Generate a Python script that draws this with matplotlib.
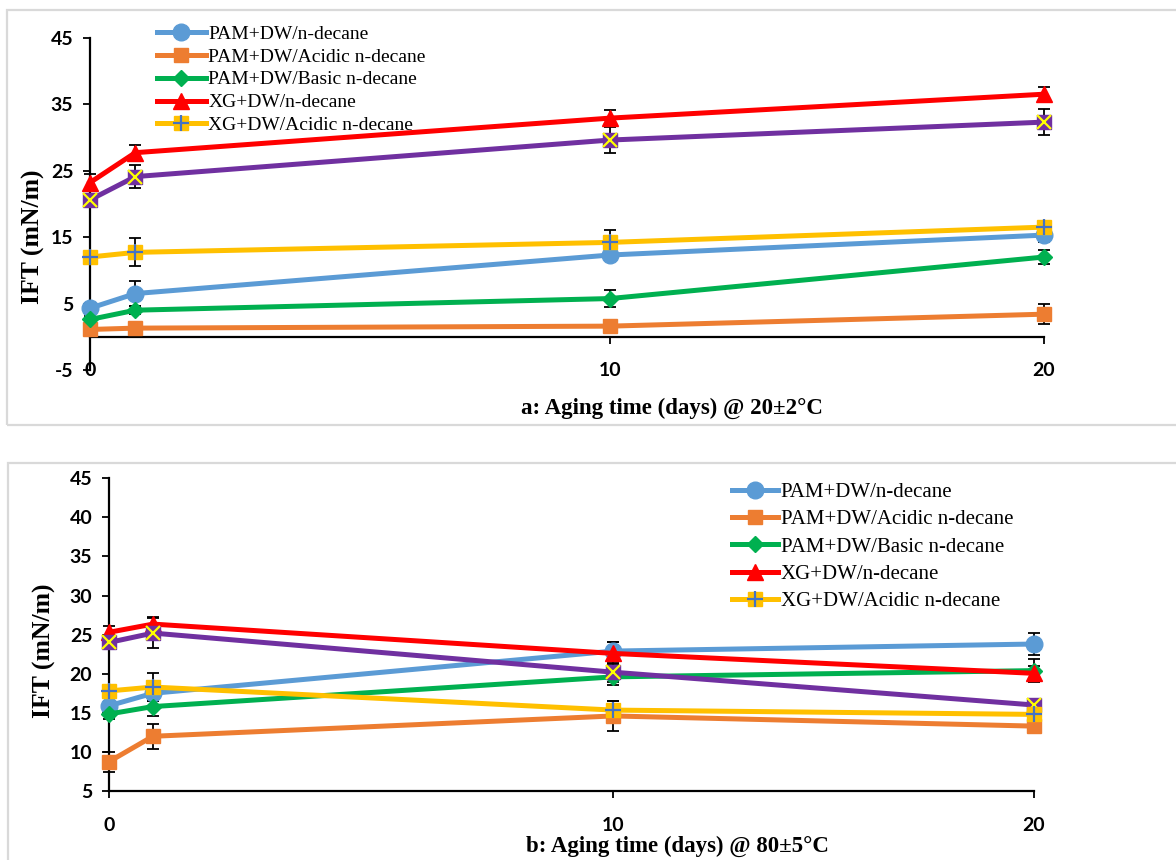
import numpy as np
import matplotlib
matplotlib.use("Agg")
import matplotlib.pyplot as plt
from matplotlib.patches import Rectangle
from matplotlib.legend_handler import HandlerTuple

# aging time points (days)
days = [0, 1, 10, 20]

# panel a: 20 +/- 2 C
a_pam_dw = [4.3, 6.5, 12.3, 15.3]
a_pam_acid = [1.1, 1.3, 1.6, 3.4]
a_pam_basic = [2.6, 4.0, 5.75, 12.0]
a_xg_dw = [23.2, 27.7, 32.9, 36.5]
a_xg_basic = [20.6, 24.1, 29.6, 32.3]
a_xg_acid = [12.0, 12.7, 14.2, 16.5]

a_err_pam_dw = [0.8, 1.9, 0.8, 1.0]
a_err_pam_acid = [0.5, 0.5, 0.5, 1.5]
a_err_pam_basic = [0.5, 0.6, 1.25, 1.0]
a_err_xg_dw = [1.3, 1.2, 1.2, 1.1]
a_err_xg_basic = [0.8, 1.75, 2.0, 2.0]
a_err_xg_acid = [0.6, 2.1, 1.8, 0.8]

# panel b: 80 +/- 5 C
b_pam_dw = [15.9, 17.5, 22.9, 23.8]
b_pam_acid = [8.75, 12.0, 14.6, 13.3]
b_pam_basic = [14.85, 15.8, 19.6, 20.4]
b_xg_dw = [25.3, 26.35, 22.6, 20.05]
b_xg_basic = [24.0, 25.2, 20.2, 16.0]
b_xg_acid = [17.8, 18.3, 15.35, 14.8]

b_err_pam_dw = [0.6, 1.0, 1.2, 1.4]
b_err_pam_acid = [1.3, 1.6, 1.9, 0.8]
b_err_pam_basic = [0.6, 1.2, 1.0, 1.5]
b_err_xg_dw = [0.8, 0.9, 1.4, 1.0]
b_err_xg_basic = [0.6, 1.9, 1.2, 0.8]
b_err_xg_acid = [0.6, 1.75, 1.2, 0.6]

labels = ["PAM+DW/n-decane", "PAM+DW/Acidic n-decane", "PAM+DW/Basic n-decane",
          "XG+DW/n-decane", "XG+DW/Acidic n-decane"]

BLUE, ORANGE, GREEN = "#5B9BD5", "#ED7D31", "#00B050"
RED, PURPLE, YELLOW = "#FF0000", "#7030A0", "#FFC000"

# day axis is slightly stretched between day 1 and day 10
XK = [-5, 0, 1, 10, 20, 30]
XV = [-5, 0, 0.95, 10.9, 20, 30]


def fwd(x):
    return np.interp(x, XK, XV)


def inv(x):
    return np.interp(x, XV, XK)


SANS = "Lato"
SERIF = "Liberation Serif"
LW = 3.6

plt.rcParams["font.family"] = SANS
plt.rcParams["font.weight"] = "bold"
plt.rcParams["axes.unicode_minus"] = False
plt.rcParams["xtick.labelsize"] = 14
plt.rcParams["ytick.labelsize"] = 14


def draw_series(ax, y, err, color, marker, ms, overlay=None):
    ax.errorbar(days, y, yerr=err, fmt="none", ecolor="black", elinewidth=1.3,
                capsize=4.5, capthick=1.3, zorder=2, clip_on=False)
    ln, = ax.plot(days, y, color=color, lw=LW, marker=marker, ms=ms,
                  mfc=color, mec=color, zorder=3, clip_on=False)
    handle = ln
    if overlay is not None:
        ocolor, omarker, oms = overlay
        ov, = ax.plot(days, y, ls="none", marker=omarker, ms=oms,
                      mec=ocolor, mew=1.6, zorder=3, clip_on=False)
        handle = (ln, ov)
    return handle


def panel(ax, data, errs):
    handles = []
    handles.append(draw_series(ax, data[0], errs[0], BLUE, "o", 12))
    handles.append(draw_series(ax, data[1], errs[1], ORANGE, "s", 10.5))
    handles.append(draw_series(ax, data[2], errs[2], GREEN, "D", 8))
    handles.append(draw_series(ax, data[3], errs[3], RED, "^", 11.5))
    draw_series(ax, data[4], errs[4], PURPLE, "s", 10.5, ("#FFFF00", "x", 10))
    handles.append(draw_series(ax, data[5], errs[5], YELLOW, "s", 10.5, ("#4472C4", "+", 11)))

    ax.set_xscale("function", functions=(fwd, inv))
    ax.set_xlim(0, 20)
    ax.set_xticks([0, 10, 20])
    ax.spines["top"].set_visible(False)
    ax.spines["right"].set_visible(False)
    ax.spines["left"].set_linewidth(1.6)
    ax.spines["bottom"].set_linewidth(1.6)
    ax.tick_params(direction="out", length=5, width=1.3)
    ax.set_facecolor("none")
    return handles


fig = plt.figure(figsize=(11.76, 8.6), dpi=100)

# light frames around each panel
fig.patches.append(Rectangle((7 / 1176, 1 - 425 / 860), 1.0, 415 / 860,
                             transform=fig.transFigure, fill=False,
                             edgecolor="#d9d9d9", lw=1.6))
fig.patches.append(Rectangle((8 / 1176, -0.05), 1.0, 1 - 463 / 860 + 0.05,
                             transform=fig.transFigure, fill=False,
                             edgecolor="#d9d9d9", lw=1.6))

# ---- panel a ----
ax1 = fig.add_axes([90 / 1176, 1 - 370 / 860, (1044 - 90) / 1176, (370 - 37.7) / 860])
h1 = panel(ax1,
           [a_pam_dw, a_pam_acid, a_pam_basic, a_xg_dw, a_xg_basic, a_xg_acid],
           [a_err_pam_dw, a_err_pam_acid, a_err_pam_basic, a_err_xg_dw, a_err_xg_basic, a_err_xg_acid])
ax1.set_ylim(-5, 45)
ax1.set_yticks(np.arange(-5, 46, 10))
ax1.spines["bottom"].set_position(("data", 0))
ax1.tick_params(axis="x", pad=13)
ax1.tick_params(axis="y", pad=7)
ax1.set_ylabel("IFT (mN/m)", fontfamily=SERIF, fontweight="bold", fontsize=18.5)
ax1.yaxis.set_label_coords(-0.047, 0.4)
fig.text(672 / 1176, 1 - 408 / 860, "a: Aging time (days) @ 20±2°C",
         ha="center", va="center", fontfamily=SERIF, fontweight="bold", fontsize=16.5)
ax1.legend(h1, labels, loc="upper left", bbox_to_anchor=(0.06, 1.067),
           frameon=False, prop={"family": SERIF, "size": 14, "weight": "normal"},
           handlelength=2.5, handletextpad=0.15, labelspacing=0.27, borderpad=0,
           handler_map={tuple: HandlerTuple(ndivide=1)})

# ---- panel b ----
ax2 = fig.add_axes([109 / 1176, 1 - 791 / 860, (1034 - 109) / 1176, (791 - 478.3) / 860])
h2 = panel(ax2,
           [b_pam_dw, b_pam_acid, b_pam_basic, b_xg_dw, b_xg_basic, b_xg_acid],
           [b_err_pam_dw, b_err_pam_acid, b_err_pam_basic, b_err_xg_dw, b_err_xg_basic, b_err_xg_acid])
ax2.set_ylim(5, 45)
ax2.set_yticks(np.arange(5, 46, 5))
ax2.tick_params(axis="x", pad=14)
ax2.tick_params(axis="y", pad=7)
ax2.set_ylabel("IFT (mN/m)", fontfamily=SERIF, fontweight="bold", fontsize=18.5)
ax2.yaxis.set_label_coords(-0.057, 0.45)
fig.text(677 / 1176, 1 - 846 / 860, "b: Aging time (days) @ 80±5°C",
         ha="center", va="center", fontfamily=SERIF, fontweight="bold", fontsize=16.5)
ax2.legend(h2, labels, loc="upper left", bbox_to_anchor=(0.662, 1.02),
           frameon=False, prop={"family": SERIF, "size": 15, "weight": "normal"},
           handlelength=2.2, handletextpad=0.15, labelspacing=0.37, borderpad=0,
           handler_map={tuple: HandlerTuple(ndivide=1)})

fig.savefig("out.png", dpi=100)
